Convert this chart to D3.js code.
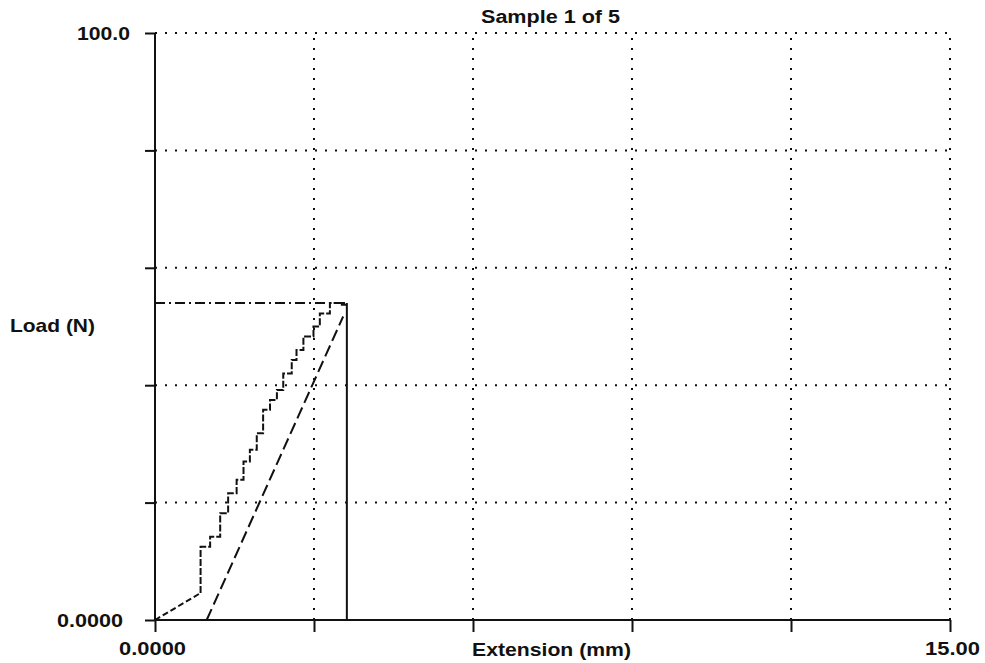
<!DOCTYPE html>
<html>
<head>
<meta charset="utf-8">
<script src="https://cdn.jsdelivr.net/npm/d3@7"></script>
<style>
  body { margin: 0; background: #fff; }
  text { font-family: "Liberation Sans", Arial, sans-serif; font-weight: bold; fill: #111; }
</style>
</head>
<body>
<svg id="chart" width="985" height="663"></svg>
<script>
// extension (mm) / load (N)
const toeExt = [0, 0.86];
const toeLoad = [0, 4.6];
const stepExt = [0.86, 0.86, 1.04, 1.23, 1.38, 1.54, 1.67, 1.79, 1.92, 2.04, 2.17, 2.30, 2.42, 2.58, 2.67, 2.80, 2.99, 3.11, 3.30, 3.49, 3.62];
const stepLoad = [4.6, 6.8, 12.5, 14.2, 18.2, 21.6, 23.9, 27.0, 29.0, 31.8, 35.8, 37.5, 39.2, 42.0, 44.3, 46.0, 48.3, 50.0, 52.2, 54.0, 53.7];
const modExt = [0.975, 3.55];
const modLoad = [0, 51.7];
const peakExt = 3.62;
const peakLoad = 54.0;

const xTicks = [0, 3, 6, 9, 12, 15];
const yTicks = [0, 20, 40, 60, 80, 100];
const xTickLabels = ["0.0000", "", "", "", "", "15.00"];
const yTickLabels = ["0.0000", "", "", "", "", "100.0"];

const svg = d3.select("#chart");
const margin = {top: 33, right: 35, bottom: 43, left: 155};
const W = 985, H = 663;

const x = d3.scaleLinear().domain([0, 15]).range([margin.left, W - margin.right]);
const y = d3.scaleLinear().domain([0, 100]).range([H - margin.bottom, margin.top]);

// dotted grid
const grid = svg.append("g").attr("stroke", "#111").attr("stroke-width", 2).attr("stroke-dasharray", "2,8");
grid.selectAll(".gx")
  .data(xTicks.slice(1))
  .enter()
  .append("line")
  .attr("x1", d => x(d)).attr("x2", d => x(d))
  .attr("y1", y(0)).attr("y2", y(100));
grid.selectAll(".gy")
  .data(yTicks.slice(1))
  .enter()
  .append("line")
  .attr("x1", x(0)).attr("x2", x(15))
  .attr("y1", d => y(d)).attr("y2", d => y(d));

// axes
const xAxis = d3.axisBottom(x).tickValues(xTicks).tickSize(12).tickFormat("");
const yAxis = d3.axisLeft(y).tickValues(yTicks).tickSize(10).tickFormat("");
svg.append("g").attr("transform", `translate(0,${y(0)})`).call(xAxis)
  .call(g => g.selectAll("line,path").attr("stroke", "#111").attr("stroke-width", 2))
  .call(g => g.select(".domain").attr("d", `M${x(0)},0H${x(15)}`));
svg.append("g").attr("transform", `translate(${x(0)},0)`).call(yAxis)
  .call(g => g.selectAll("line,path").attr("stroke", "#111").attr("stroke-width", 2))
  .call(g => g.select(".domain").attr("d", `M0,${y(0)}V${y(100)}`));

// tick labels
svg.selectAll(".xl")
  .data(xTicks.filter((d, i) => xTickLabels[i]))
  .enter()
  .append("text")
  .attr("x", d => d === 0 ? x(d) - 36 : x(d) - 25)
  .attr("y", 655)
  .attr("font-size", 19)
  .attr("textLength", d => d === 0 ? 67 : 55)
  .attr("lengthAdjust", "spacingAndGlyphs")
  .text(d => xTickLabels[xTicks.indexOf(d)]);

svg.selectAll(".yl")
  .data(yTicks.filter((d, i) => yTickLabels[i]))
  .enter()
  .append("text")
  .attr("x", d => d === 0 ? 57 : 77)
  .attr("y", d => y(d) + 7)
  .attr("font-size", 19)
  .attr("textLength", d => d === 0 ? 66 : 53)
  .attr("lengthAdjust", "spacingAndGlyphs")
  .text(d => yTickLabels[yTicks.indexOf(d)]);

svg.append("text").attr("x", 472).attr("y", 656)
  .attr("font-size", 19).attr("textLength", 159).attr("lengthAdjust", "spacingAndGlyphs")
  .text("Extension (mm)");
svg.append("text").attr("x", 10).attr("y", 332)
  .attr("font-size", 19).attr("textLength", 85).attr("lengthAdjust", "spacingAndGlyphs")
  .text("Load (N)");
svg.append("text").attr("x", 481).attr("y", 23)
  .attr("font-size", 18).attr("textLength", 139).attr("lengthAdjust", "spacingAndGlyphs")
  .text("Sample  1 of  5");

// curves
const line = d3.line().x(d => x(d[0])).y(d => y(d[1]));

svg.append("path")
  .datum(d3.zip(toeExt, toeLoad))
  .attr("d", line)
  .attr("fill", "none").attr("stroke", "#111").attr("stroke-width", 2)
  .attr("stroke-dasharray", "6,3");

svg.append("path")
  .datum(d3.zip(stepExt, stepLoad))
  .attr("d", line.curve(d3.curveStepBefore))
  .attr("fill", "none").attr("stroke", "#111").attr("stroke-width", 2)
  .attr("stroke-dasharray", "7,2");
line.curve(d3.curveLinear);

svg.append("path")
  .datum(d3.zip(modExt, modLoad))
  .attr("d", line)
  .attr("fill", "none").attr("stroke", "#111").attr("stroke-width", 2)
  .attr("stroke-dasharray", "12,5");

// peak markers
svg.append("path")
  .datum([[0, peakLoad], [peakExt, peakLoad]])
  .attr("d", line)
  .attr("fill", "none").attr("stroke", "#111").attr("stroke-width", 2)
  .attr("stroke-dasharray", "10,4,2,4");
svg.append("path")
  .datum([[peakExt, peakLoad], [peakExt, 0]])
  .attr("d", line)
  .attr("fill", "none").attr("stroke", "#111").attr("stroke-width", 2);
</script>
</body>
</html>
